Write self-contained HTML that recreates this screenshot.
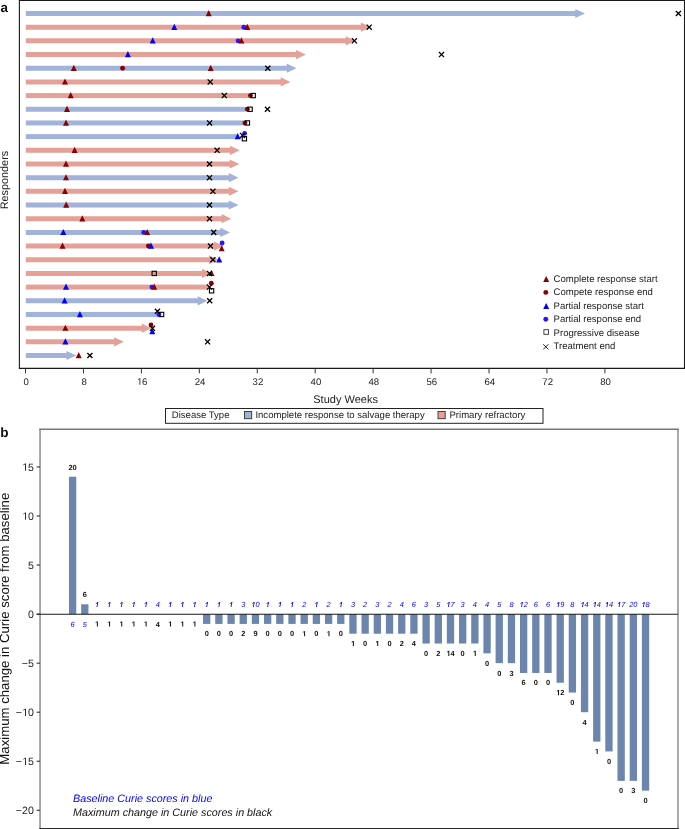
<!DOCTYPE html><html><head><meta charset="utf-8"><style>html,body{margin:0;padding:0;background:#fff;}svg{display:block;will-change:transform;text-rendering:geometricPrecision;font-family:"Liberation Sans",sans-serif;}</style></head><body>
<svg width="685" height="829" viewBox="0 0 685 829">
<rect width="685" height="829" fill="#fff"/>
<text x="0.6" y="11.7" font-size="13.4" font-weight="bold" fill="#111">a</text>
<path d="M25.8 11.00H575.30V8.90L585.00 13.50L575.30 18.10V16.00H25.8Z" fill="#A1B3D9"/>
<path d="M25.8 24.68H360.90V22.58L370.60 27.18L360.90 31.78V29.68H25.8Z" fill="#E5A197"/>
<path d="M25.8 38.36H345.70V36.26L355.40 40.86L345.70 45.46V43.36H25.8Z" fill="#E5A197"/>
<path d="M25.8 52.04H296.00V49.94L305.70 54.54L296.00 59.14V57.04H25.8Z" fill="#E5A197"/>
<path d="M25.8 65.72H286.80V63.62L296.50 68.22L286.80 72.82V70.72H25.8Z" fill="#A1B3D9"/>
<path d="M25.8 79.40H280.70V77.30L290.40 81.90L280.70 86.50V84.40H25.8Z" fill="#E5A197"/>
<rect x="25.8" y="93.08" width="223.90" height="5.00" fill="#E5A197"/>
<rect x="25.8" y="106.76" width="219.80" height="5.00" fill="#A1B3D9"/>
<rect x="25.8" y="120.44" width="217.40" height="5.00" fill="#A1B3D9"/>
<rect x="25.8" y="134.12" width="211.20" height="5.00" fill="#A1B3D9"/>
<path d="M25.8 147.80H230.00V145.70L239.70 150.30L230.00 154.90V152.80H25.8Z" fill="#E5A197"/>
<path d="M25.8 161.48H229.70V159.38L239.40 163.98L229.70 168.58V166.48H25.8Z" fill="#E5A197"/>
<path d="M25.8 175.16H228.80V173.06L238.50 177.66L228.80 182.26V180.16H25.8Z" fill="#A1B3D9"/>
<path d="M25.8 188.84H228.80V186.74L238.50 191.34L228.80 195.94V193.84H25.8Z" fill="#E5A197"/>
<path d="M25.8 202.52H228.80V200.42L238.50 205.02L228.80 209.62V207.52H25.8Z" fill="#A1B3D9"/>
<path d="M25.8 216.20H221.50V214.10L231.20 218.70L221.50 223.30V221.20H25.8Z" fill="#E5A197"/>
<path d="M25.8 229.88H220.30V227.78L230.00 232.38L220.30 236.98V234.88H25.8Z" fill="#A1B3D9"/>
<path d="M25.8 243.56H213.90V241.46L223.60 246.06L213.90 250.66V248.56H25.8Z" fill="#E5A197"/>
<path d="M25.8 257.24H208.90V255.14L218.60 259.74L208.90 264.34V262.24H25.8Z" fill="#E5A197"/>
<path d="M25.8 270.92H202.00V268.82L211.70 273.42L202.00 278.02V275.92H25.8Z" fill="#E5A197"/>
<rect x="25.8" y="284.60" width="182.10" height="5.00" fill="#E5A197"/>
<path d="M25.8 298.28H197.70V296.18L207.40 300.78L197.70 305.38V303.28H25.8Z" fill="#A1B3D9"/>
<rect x="25.8" y="311.96" width="133.10" height="5.00" fill="#A1B3D9"/>
<path d="M25.8 325.64H141.80V323.54L151.50 328.14L141.80 332.74V330.64H25.8Z" fill="#E5A197"/>
<path d="M25.8 339.32H114.10V337.22L123.80 341.82L114.10 346.42V344.32H25.8Z" fill="#E5A197"/>
<path d="M25.8 353.00H66.50V350.90L76.20 355.50L66.50 360.10V358.00H25.8Z" fill="#A1B3D9"/>
<circle cx="243.80" cy="27.18" r="2.45" fill="#2a14ff"/>
<circle cx="238.10" cy="40.86" r="2.45" fill="#2a14ff"/>
<circle cx="122.60" cy="68.22" r="2.45" fill="#8B0000"/>
<circle cx="250.40" cy="95.58" r="2.45" fill="#8B0000"/>
<circle cx="247.30" cy="109.26" r="2.45" fill="#8B0000"/>
<circle cx="244.90" cy="122.94" r="2.45" fill="#8B0000"/>
<circle cx="244.60" cy="133.42" r="2.45" fill="#2a14ff"/>
<circle cx="143.70" cy="232.38" r="2.45" fill="#2a14ff"/>
<circle cx="148.40" cy="246.06" r="2.45" fill="#8B0000"/>
<circle cx="222.10" cy="243.06" r="2.45" fill="#2a14ff"/>
<circle cx="151.90" cy="287.10" r="2.45" fill="#2a14ff"/>
<circle cx="211.30" cy="283.20" r="2.45" fill="#8B0000"/>
<circle cx="158.90" cy="314.46" r="2.45" fill="#2a14ff"/>
<circle cx="151.00" cy="325.04" r="2.45" fill="#8B0000"/>
<path d="M208.70 10.00L211.70 16.20L205.70 16.20Z" fill="#8B0000"/>
<path d="M174.30 23.68L177.30 29.88L171.30 29.88Z" fill="#0000FF"/>
<path d="M247.30 23.68L250.30 29.88L244.30 29.88Z" fill="#8B0000"/>
<path d="M152.70 37.36L155.70 43.56L149.70 43.56Z" fill="#0000FF"/>
<path d="M241.40 37.36L244.40 43.56L238.40 43.56Z" fill="#8B0000"/>
<path d="M127.90 51.04L130.90 57.24L124.90 57.24Z" fill="#0000FF"/>
<path d="M73.80 64.72L76.80 70.92L70.80 70.92Z" fill="#8B0000"/>
<path d="M210.70 64.72L213.70 70.92L207.70 70.92Z" fill="#8B0000"/>
<path d="M65.00 78.40L68.00 84.60L62.00 84.60Z" fill="#8B0000"/>
<path d="M70.70 92.08L73.70 98.28L67.70 98.28Z" fill="#8B0000"/>
<path d="M67.00 105.76L70.00 111.96L64.00 111.96Z" fill="#8B0000"/>
<path d="M66.00 119.44L69.00 125.64L63.00 125.64Z" fill="#8B0000"/>
<path d="M237.70 133.12L240.70 139.32L234.70 139.32Z" fill="#0000FF"/>
<path d="M74.60 146.80L77.60 153.00L71.60 153.00Z" fill="#8B0000"/>
<path d="M66.00 160.48L69.00 166.68L63.00 166.68Z" fill="#8B0000"/>
<path d="M66.00 174.16L69.00 180.36L63.00 180.36Z" fill="#8B0000"/>
<path d="M65.00 187.84L68.00 194.04L62.00 194.04Z" fill="#8B0000"/>
<path d="M66.20 201.52L69.20 207.72L63.20 207.72Z" fill="#8B0000"/>
<path d="M82.30 215.20L85.30 221.40L79.30 221.40Z" fill="#8B0000"/>
<path d="M63.30 228.88L66.30 235.08L60.30 235.08Z" fill="#0000FF"/>
<path d="M147.20 228.88L150.20 235.08L144.20 235.08Z" fill="#8B0000"/>
<path d="M62.50 242.56L65.50 248.76L59.50 248.76Z" fill="#8B0000"/>
<path d="M151.00 242.56L154.00 248.76L148.00 248.76Z" fill="#0000FF"/>
<path d="M221.70 245.16L224.70 251.36L218.70 251.36Z" fill="#8B0000"/>
<path d="M219.20 256.24L222.20 262.44L216.20 262.44Z" fill="#0000FF"/>
<path d="M211.50 269.92L214.50 276.12L208.50 276.12Z" fill="#8B0000"/>
<path d="M66.00 283.60L69.00 289.80L63.00 289.80Z" fill="#0000FF"/>
<path d="M154.20 283.60L157.20 289.80L151.20 289.80Z" fill="#8B0000"/>
<path d="M64.60 297.28L67.60 303.48L61.60 303.48Z" fill="#0000FF"/>
<path d="M79.90 310.96L82.90 317.16L76.90 317.16Z" fill="#0000FF"/>
<path d="M65.40 324.64L68.40 330.84L62.40 330.84Z" fill="#8B0000"/>
<path d="M152.30 328.04L155.30 334.24L149.30 334.24Z" fill="#0000FF"/>
<path d="M65.40 338.32L68.40 344.52L62.40 344.52Z" fill="#0000FF"/>
<path d="M78.70 352.00L81.70 358.20L75.70 358.20Z" fill="#8B0000"/>
<rect x="251.05" y="93.43" width="4.30" height="4.30" fill="none" stroke="#000" stroke-width="1.1"/>
<rect x="247.95" y="107.11" width="4.30" height="4.30" fill="none" stroke="#000" stroke-width="1.1"/>
<rect x="245.25" y="120.79" width="4.30" height="4.30" fill="none" stroke="#000" stroke-width="1.1"/>
<rect x="242.25" y="136.57" width="4.30" height="4.30" fill="none" stroke="#000" stroke-width="1.1"/>
<rect x="152.05" y="271.27" width="4.30" height="4.30" fill="none" stroke="#000" stroke-width="1.1"/>
<rect x="209.45" y="288.65" width="4.30" height="4.30" fill="none" stroke="#000" stroke-width="1.1"/>
<rect x="159.45" y="312.31" width="4.30" height="4.30" fill="none" stroke="#000" stroke-width="1.1"/>
<path d="M675.85 10.95L680.95 16.05M675.85 16.05L680.95 10.95" stroke="#000" stroke-width="1.3" fill="none"/>
<path d="M366.65 24.63L371.75 29.73M366.65 29.73L371.75 24.63" stroke="#000" stroke-width="1.3" fill="none"/>
<path d="M351.85 38.31L356.95 43.41M351.85 43.41L356.95 38.31" stroke="#000" stroke-width="1.3" fill="none"/>
<path d="M438.95 51.99L444.05 57.09M438.95 57.09L444.05 51.99" stroke="#000" stroke-width="1.3" fill="none"/>
<path d="M265.25 65.67L270.35 70.77M265.25 70.77L270.35 65.67" stroke="#000" stroke-width="1.3" fill="none"/>
<path d="M207.65 79.35L212.75 84.45M207.65 84.45L212.75 79.35" stroke="#000" stroke-width="1.3" fill="none"/>
<path d="M221.75 93.03L226.85 98.13M221.75 98.13L226.85 93.03" stroke="#000" stroke-width="1.3" fill="none"/>
<path d="M264.95 106.71L270.05 111.81M264.95 111.81L270.05 106.71" stroke="#000" stroke-width="1.3" fill="none"/>
<path d="M207.05 120.39L212.15 125.49M207.05 125.49L212.15 120.39" stroke="#000" stroke-width="1.3" fill="none"/>
<path d="M239.95 132.87L245.05 137.97M239.95 137.97L245.05 132.87" stroke="#000" stroke-width="1.3" fill="none"/>
<path d="M214.55 147.75L219.65 152.85M214.55 152.85L219.65 147.75" stroke="#000" stroke-width="1.3" fill="none"/>
<path d="M206.95 161.43L212.05 166.53M206.95 166.53L212.05 161.43" stroke="#000" stroke-width="1.3" fill="none"/>
<path d="M206.95 175.11L212.05 180.21M206.95 180.21L212.05 175.11" stroke="#000" stroke-width="1.3" fill="none"/>
<path d="M210.35 188.79L215.45 193.89M210.35 193.89L215.45 188.79" stroke="#000" stroke-width="1.3" fill="none"/>
<path d="M206.95 202.47L212.05 207.57M206.95 207.57L212.05 202.47" stroke="#000" stroke-width="1.3" fill="none"/>
<path d="M206.95 216.15L212.05 221.25M206.95 221.25L212.05 216.15" stroke="#000" stroke-width="1.3" fill="none"/>
<path d="M211.15 229.83L216.25 234.93M211.15 234.93L216.25 229.83" stroke="#000" stroke-width="1.3" fill="none"/>
<path d="M207.95 243.51L213.05 248.61M207.95 248.61L213.05 243.51" stroke="#000" stroke-width="1.3" fill="none"/>
<path d="M210.35 257.19L215.45 262.29M210.35 262.29L215.45 257.19" stroke="#000" stroke-width="1.3" fill="none"/>
<path d="M206.95 270.87L212.05 275.97M206.95 275.97L212.05 270.87" stroke="#000" stroke-width="1.3" fill="none"/>
<path d="M206.95 284.55L212.05 289.65M206.95 289.65L212.05 284.55" stroke="#000" stroke-width="1.3" fill="none"/>
<path d="M207.15 298.23L212.25 303.33M207.15 303.33L212.25 298.23" stroke="#000" stroke-width="1.3" fill="none"/>
<path d="M154.85 308.71L159.95 313.81M154.85 313.81L159.95 308.71" stroke="#000" stroke-width="1.3" fill="none"/>
<path d="M149.95 325.79L155.05 330.89M149.95 330.89L155.05 325.79" stroke="#000" stroke-width="1.3" fill="none"/>
<path d="M205.05 339.27L210.15 344.37M205.05 344.37L210.15 339.27" stroke="#000" stroke-width="1.3" fill="none"/>
<path d="M87.35 352.95L92.45 358.05M87.35 358.05L92.45 352.95" stroke="#000" stroke-width="1.3" fill="none"/>
<path d="M19.4 0.5H684.5V368.4H19.4Z" fill="none" stroke="#1a1a1a" stroke-width="1.1"/>
<line x1="25.50" y1="368.4" x2="25.50" y2="373.4" stroke="#333" stroke-width="1"/>
<text x="23.53" y="384.80" font-size="9.6" fill="#222">0</text>
<line x1="83.44" y1="368.4" x2="83.44" y2="373.4" stroke="#333" stroke-width="1"/>
<text x="81.47" y="384.80" font-size="9.6" fill="#222">8</text>
<line x1="141.38" y1="368.4" x2="141.38" y2="373.4" stroke="#333" stroke-width="1"/>
<path transform="translate(136.74 384.80) scale(0.00469 -0.00469)" d="M763 0L583 0L583 1237L265 1010L265 1180L598 1409L763 1409Z" fill="#222"/><text x="142.08" y="384.80" font-size="9.6" fill="#222">6</text>
<line x1="199.32" y1="368.4" x2="199.32" y2="373.4" stroke="#333" stroke-width="1"/>
<text x="194.68" y="384.80" font-size="9.6" fill="#222">24</text>
<line x1="257.26" y1="368.4" x2="257.26" y2="373.4" stroke="#333" stroke-width="1"/>
<text x="252.62" y="384.80" font-size="9.6" fill="#222">32</text>
<line x1="315.20" y1="368.4" x2="315.20" y2="373.4" stroke="#333" stroke-width="1"/>
<text x="310.56" y="384.80" font-size="9.6" fill="#222">40</text>
<line x1="373.14" y1="368.4" x2="373.14" y2="373.4" stroke="#333" stroke-width="1"/>
<text x="368.50" y="384.80" font-size="9.6" fill="#222">48</text>
<line x1="431.08" y1="368.4" x2="431.08" y2="373.4" stroke="#333" stroke-width="1"/>
<text x="426.44" y="384.80" font-size="9.6" fill="#222">56</text>
<line x1="489.02" y1="368.4" x2="489.02" y2="373.4" stroke="#333" stroke-width="1"/>
<text x="484.38" y="384.80" font-size="9.6" fill="#222">64</text>
<line x1="546.96" y1="368.4" x2="546.96" y2="373.4" stroke="#333" stroke-width="1"/>
<text x="542.32" y="384.80" font-size="9.6" fill="#222">72</text>
<line x1="604.90" y1="368.4" x2="604.90" y2="373.4" stroke="#333" stroke-width="1"/>
<text x="600.26" y="384.80" font-size="9.6" fill="#222">80</text>
<text x="345.6" y="403.0" font-size="11" text-anchor="middle" fill="#222">Study Weeks</text>
<text transform="translate(8.2,180.05) rotate(-90)" font-size="10.85" text-anchor="middle" fill="#222">Responders</text>
<path d="M546.20 275.90L549.20 282.10L543.20 282.10Z" fill="#8B0000"/>
<text x="553.6" y="282.00" font-size="9.56" fill="#222">Complete response start</text>
<circle cx="545.80" cy="292.40" r="2.45" fill="#8B0000"/>
<text x="553.6" y="295.46" font-size="9.56" fill="#222">Compete response end</text>
<path d="M546.20 302.90L549.20 309.10L543.20 309.10Z" fill="#0000FF"/>
<text x="553.6" y="308.92" font-size="9.56" fill="#222">Partial response start</text>
<circle cx="545.80" cy="319.30" r="2.45" fill="#2a14ff"/>
<text x="553.6" y="322.38" font-size="9.56" fill="#222">Partial response end</text>
<rect x="543.90" y="329.70" width="4.60" height="4.60" fill="none" stroke="#3a3a3a" stroke-width="0.95"/>
<text x="553.6" y="335.84" font-size="9.56" fill="#222">Progressive disease</text>
<path d="M543.25 344.25L548.35 349.35M543.25 349.35L548.35 344.25" stroke="#222" stroke-width="1.0" fill="none"/>
<text x="553.6" y="349.30" font-size="9.56" fill="#222">Treatment end</text>
<rect x="165.5" y="408.5" width="377.5" height="14.8" fill="#fff" stroke="#222" stroke-width="1"/>
<text x="171.8" y="418.4" font-size="9.55" fill="#222">Disease Type</text>
<rect x="244.5" y="411.5" width="7.2" height="7.2" fill="#A1B3D9" stroke="#333" stroke-width="0.9"/>
<text x="255.4" y="418.4" font-size="9.55" fill="#222">Incomplete response to salvage therapy</text>
<rect x="438" y="411.5" width="7.2" height="7.2" fill="#E5A197" stroke="#333" stroke-width="0.9"/>
<text x="449.5" y="418.4" font-size="9.55" fill="#222">Primary refractory</text>
<text x="0.2" y="436.5" font-size="13.6" font-weight="bold" fill="#111">b</text>
<rect x="68.95" y="476.76" width="7.3" height="137.34" fill="#6C85AD"/>
<rect x="81.14" y="604.29" width="7.3" height="9.81" fill="#6C85AD"/>
<rect x="203.04" y="614.10" width="7.3" height="9.81" fill="#6C85AD"/>
<rect x="215.23" y="614.10" width="7.3" height="9.81" fill="#6C85AD"/>
<rect x="227.42" y="614.10" width="7.3" height="9.81" fill="#6C85AD"/>
<rect x="239.61" y="614.10" width="7.3" height="9.81" fill="#6C85AD"/>
<rect x="251.80" y="614.10" width="7.3" height="9.81" fill="#6C85AD"/>
<rect x="263.99" y="614.10" width="7.3" height="9.81" fill="#6C85AD"/>
<rect x="276.18" y="614.10" width="7.3" height="9.81" fill="#6C85AD"/>
<rect x="288.37" y="614.10" width="7.3" height="9.81" fill="#6C85AD"/>
<rect x="300.56" y="614.10" width="7.3" height="9.81" fill="#6C85AD"/>
<rect x="312.75" y="614.10" width="7.3" height="9.81" fill="#6C85AD"/>
<rect x="324.94" y="614.10" width="7.3" height="9.81" fill="#6C85AD"/>
<rect x="337.13" y="614.10" width="7.3" height="9.81" fill="#6C85AD"/>
<rect x="349.32" y="614.10" width="7.3" height="19.62" fill="#6C85AD"/>
<rect x="361.51" y="614.10" width="7.3" height="19.62" fill="#6C85AD"/>
<rect x="373.70" y="614.10" width="7.3" height="19.62" fill="#6C85AD"/>
<rect x="385.89" y="614.10" width="7.3" height="19.62" fill="#6C85AD"/>
<rect x="398.08" y="614.10" width="7.3" height="19.62" fill="#6C85AD"/>
<rect x="410.27" y="614.10" width="7.3" height="19.62" fill="#6C85AD"/>
<rect x="422.46" y="614.10" width="7.3" height="29.43" fill="#6C85AD"/>
<rect x="434.65" y="614.10" width="7.3" height="29.43" fill="#6C85AD"/>
<rect x="446.84" y="614.10" width="7.3" height="29.43" fill="#6C85AD"/>
<rect x="459.03" y="614.10" width="7.3" height="29.43" fill="#6C85AD"/>
<rect x="471.22" y="614.10" width="7.3" height="29.43" fill="#6C85AD"/>
<rect x="483.41" y="614.10" width="7.3" height="39.24" fill="#6C85AD"/>
<rect x="495.60" y="614.10" width="7.3" height="49.05" fill="#6C85AD"/>
<rect x="507.79" y="614.10" width="7.3" height="49.05" fill="#6C85AD"/>
<rect x="519.98" y="614.10" width="7.3" height="58.86" fill="#6C85AD"/>
<rect x="532.17" y="614.10" width="7.3" height="58.86" fill="#6C85AD"/>
<rect x="544.36" y="614.10" width="7.3" height="58.86" fill="#6C85AD"/>
<rect x="556.55" y="614.10" width="7.3" height="68.67" fill="#6C85AD"/>
<rect x="568.74" y="614.10" width="7.3" height="78.48" fill="#6C85AD"/>
<rect x="580.93" y="614.10" width="7.3" height="98.10" fill="#6C85AD"/>
<rect x="593.12" y="614.10" width="7.3" height="127.53" fill="#6C85AD"/>
<rect x="605.31" y="614.10" width="7.3" height="137.34" fill="#6C85AD"/>
<rect x="617.50" y="614.10" width="7.3" height="166.77" fill="#6C85AD"/>
<rect x="629.69" y="614.10" width="7.3" height="166.77" fill="#6C85AD"/>
<rect x="641.88" y="614.10" width="7.3" height="176.58" fill="#6C85AD"/>
<text x="68.48" y="469.86" font-size="7.4" font-weight="bold" fill="#111">20</text>
<text x="70.54" y="626.50" font-size="7.4" font-style="italic" fill="#0000ff">6</text>
<text x="82.73" y="597.39" font-size="7.4" font-weight="bold" fill="#111">6</text>
<text x="82.73" y="626.50" font-size="7.4" font-style="italic" fill="#0000ff">5</text>
<path transform="translate(94.92 607.10) scale(0.00361 -0.00361)" d="M430 0L655 1090L225 850L275 1090L735 1409L945 1409L675 0Z" fill="#0000ff"/>
<path transform="translate(94.92 626.50) scale(0.00361 -0.00361)" d="M819 0L538 0L538 1170L200 959L200 1180L553 1409L819 1409Z" fill="#111"/>
<path transform="translate(107.11 607.10) scale(0.00361 -0.00361)" d="M430 0L655 1090L225 850L275 1090L735 1409L945 1409L675 0Z" fill="#0000ff"/>
<path transform="translate(107.11 626.50) scale(0.00361 -0.00361)" d="M819 0L538 0L538 1170L200 959L200 1180L553 1409L819 1409Z" fill="#111"/>
<path transform="translate(119.30 607.10) scale(0.00361 -0.00361)" d="M430 0L655 1090L225 850L275 1090L735 1409L945 1409L675 0Z" fill="#0000ff"/>
<path transform="translate(119.30 626.50) scale(0.00361 -0.00361)" d="M819 0L538 0L538 1170L200 959L200 1180L553 1409L819 1409Z" fill="#111"/>
<path transform="translate(131.49 607.10) scale(0.00361 -0.00361)" d="M430 0L655 1090L225 850L275 1090L735 1409L945 1409L675 0Z" fill="#0000ff"/>
<path transform="translate(131.49 626.50) scale(0.00361 -0.00361)" d="M819 0L538 0L538 1170L200 959L200 1180L553 1409L819 1409Z" fill="#111"/>
<path transform="translate(143.68 607.10) scale(0.00361 -0.00361)" d="M430 0L655 1090L225 850L275 1090L735 1409L945 1409L675 0Z" fill="#0000ff"/>
<path transform="translate(143.68 626.50) scale(0.00361 -0.00361)" d="M819 0L538 0L538 1170L200 959L200 1180L553 1409L819 1409Z" fill="#111"/>
<text x="155.87" y="607.10" font-size="7.4" font-style="italic" fill="#0000ff">4</text>
<text x="155.87" y="626.50" font-size="7.4" font-weight="bold" fill="#111">4</text>
<path transform="translate(168.06 607.10) scale(0.00361 -0.00361)" d="M430 0L655 1090L225 850L275 1090L735 1409L945 1409L675 0Z" fill="#0000ff"/>
<path transform="translate(168.06 626.50) scale(0.00361 -0.00361)" d="M819 0L538 0L538 1170L200 959L200 1180L553 1409L819 1409Z" fill="#111"/>
<path transform="translate(180.25 607.10) scale(0.00361 -0.00361)" d="M430 0L655 1090L225 850L275 1090L735 1409L945 1409L675 0Z" fill="#0000ff"/>
<path transform="translate(180.25 626.50) scale(0.00361 -0.00361)" d="M819 0L538 0L538 1170L200 959L200 1180L553 1409L819 1409Z" fill="#111"/>
<path transform="translate(192.44 607.10) scale(0.00361 -0.00361)" d="M430 0L655 1090L225 850L275 1090L735 1409L945 1409L675 0Z" fill="#0000ff"/>
<path transform="translate(192.44 626.50) scale(0.00361 -0.00361)" d="M819 0L538 0L538 1170L200 959L200 1180L553 1409L819 1409Z" fill="#111"/>
<path transform="translate(204.63 607.10) scale(0.00361 -0.00361)" d="M430 0L655 1090L225 850L275 1090L735 1409L945 1409L675 0Z" fill="#0000ff"/>
<text x="204.63" y="636.31" font-size="7.4" font-weight="bold" fill="#111">0</text>
<path transform="translate(216.82 607.10) scale(0.00361 -0.00361)" d="M430 0L655 1090L225 850L275 1090L735 1409L945 1409L675 0Z" fill="#0000ff"/>
<text x="216.82" y="636.31" font-size="7.4" font-weight="bold" fill="#111">0</text>
<path transform="translate(229.01 607.10) scale(0.00361 -0.00361)" d="M430 0L655 1090L225 850L275 1090L735 1409L945 1409L675 0Z" fill="#0000ff"/>
<text x="229.01" y="636.31" font-size="7.4" font-weight="bold" fill="#111">0</text>
<text x="241.20" y="607.10" font-size="7.4" font-style="italic" fill="#0000ff">3</text>
<text x="241.20" y="636.31" font-size="7.4" font-weight="bold" fill="#111">2</text>
<path transform="translate(251.33 607.10) scale(0.00361 -0.00361)" d="M430 0L655 1090L225 850L275 1090L735 1409L945 1409L675 0Z" fill="#0000ff"/><text x="255.45" y="607.10" font-size="7.4" font-style="italic" fill="#0000ff">0</text>
<text x="253.39" y="636.31" font-size="7.4" font-weight="bold" fill="#111">9</text>
<path transform="translate(265.58 607.10) scale(0.00361 -0.00361)" d="M430 0L655 1090L225 850L275 1090L735 1409L945 1409L675 0Z" fill="#0000ff"/>
<text x="265.58" y="636.31" font-size="7.4" font-weight="bold" fill="#111">0</text>
<path transform="translate(277.77 607.10) scale(0.00361 -0.00361)" d="M430 0L655 1090L225 850L275 1090L735 1409L945 1409L675 0Z" fill="#0000ff"/>
<text x="277.77" y="636.31" font-size="7.4" font-weight="bold" fill="#111">0</text>
<path transform="translate(289.96 607.10) scale(0.00361 -0.00361)" d="M430 0L655 1090L225 850L275 1090L735 1409L945 1409L675 0Z" fill="#0000ff"/>
<text x="289.96" y="636.31" font-size="7.4" font-weight="bold" fill="#111">0</text>
<text x="302.15" y="607.10" font-size="7.4" font-style="italic" fill="#0000ff">2</text>
<path transform="translate(302.15 636.31) scale(0.00361 -0.00361)" d="M819 0L538 0L538 1170L200 959L200 1180L553 1409L819 1409Z" fill="#111"/>
<path transform="translate(314.34 607.10) scale(0.00361 -0.00361)" d="M430 0L655 1090L225 850L275 1090L735 1409L945 1409L675 0Z" fill="#0000ff"/>
<text x="314.34" y="636.31" font-size="7.4" font-weight="bold" fill="#111">0</text>
<text x="326.53" y="607.10" font-size="7.4" font-style="italic" fill="#0000ff">2</text>
<path transform="translate(326.53 636.31) scale(0.00361 -0.00361)" d="M819 0L538 0L538 1170L200 959L200 1180L553 1409L819 1409Z" fill="#111"/>
<path transform="translate(338.72 607.10) scale(0.00361 -0.00361)" d="M430 0L655 1090L225 850L275 1090L735 1409L945 1409L675 0Z" fill="#0000ff"/>
<text x="338.72" y="636.31" font-size="7.4" font-weight="bold" fill="#111">0</text>
<text x="350.91" y="607.10" font-size="7.4" font-style="italic" fill="#0000ff">3</text>
<path transform="translate(350.91 646.12) scale(0.00361 -0.00361)" d="M819 0L538 0L538 1170L200 959L200 1180L553 1409L819 1409Z" fill="#111"/>
<text x="363.10" y="607.10" font-size="7.4" font-style="italic" fill="#0000ff">2</text>
<text x="363.10" y="646.12" font-size="7.4" font-weight="bold" fill="#111">0</text>
<text x="375.29" y="607.10" font-size="7.4" font-style="italic" fill="#0000ff">3</text>
<path transform="translate(375.29 646.12) scale(0.00361 -0.00361)" d="M819 0L538 0L538 1170L200 959L200 1180L553 1409L819 1409Z" fill="#111"/>
<text x="387.48" y="607.10" font-size="7.4" font-style="italic" fill="#0000ff">2</text>
<text x="387.48" y="646.12" font-size="7.4" font-weight="bold" fill="#111">0</text>
<text x="399.67" y="607.10" font-size="7.4" font-style="italic" fill="#0000ff">4</text>
<text x="399.67" y="646.12" font-size="7.4" font-weight="bold" fill="#111">2</text>
<text x="411.86" y="607.10" font-size="7.4" font-style="italic" fill="#0000ff">6</text>
<text x="411.86" y="646.12" font-size="7.4" font-weight="bold" fill="#111">4</text>
<text x="424.05" y="607.10" font-size="7.4" font-style="italic" fill="#0000ff">3</text>
<text x="424.05" y="655.93" font-size="7.4" font-weight="bold" fill="#111">0</text>
<text x="436.24" y="607.10" font-size="7.4" font-style="italic" fill="#0000ff">5</text>
<text x="436.24" y="655.93" font-size="7.4" font-weight="bold" fill="#111">2</text>
<path transform="translate(446.37 607.10) scale(0.00361 -0.00361)" d="M430 0L655 1090L225 850L275 1090L735 1409L945 1409L675 0Z" fill="#0000ff"/><text x="450.49" y="607.10" font-size="7.4" font-style="italic" fill="#0000ff">7</text>
<path transform="translate(446.37 655.93) scale(0.00361 -0.00361)" d="M819 0L538 0L538 1170L200 959L200 1180L553 1409L819 1409Z" fill="#111"/><text x="450.49" y="655.93" font-size="7.4" font-weight="bold" fill="#111">4</text>
<text x="460.62" y="607.10" font-size="7.4" font-style="italic" fill="#0000ff">3</text>
<text x="460.62" y="655.93" font-size="7.4" font-weight="bold" fill="#111">0</text>
<text x="472.81" y="607.10" font-size="7.4" font-style="italic" fill="#0000ff">4</text>
<path transform="translate(472.81 655.93) scale(0.00361 -0.00361)" d="M819 0L538 0L538 1170L200 959L200 1180L553 1409L819 1409Z" fill="#111"/>
<text x="485.00" y="607.10" font-size="7.4" font-style="italic" fill="#0000ff">4</text>
<text x="485.00" y="665.74" font-size="7.4" font-weight="bold" fill="#111">0</text>
<text x="497.19" y="607.10" font-size="7.4" font-style="italic" fill="#0000ff">5</text>
<text x="497.19" y="675.55" font-size="7.4" font-weight="bold" fill="#111">0</text>
<text x="509.38" y="607.10" font-size="7.4" font-style="italic" fill="#0000ff">8</text>
<text x="509.38" y="675.55" font-size="7.4" font-weight="bold" fill="#111">3</text>
<path transform="translate(519.51 607.10) scale(0.00361 -0.00361)" d="M430 0L655 1090L225 850L275 1090L735 1409L945 1409L675 0Z" fill="#0000ff"/><text x="523.63" y="607.10" font-size="7.4" font-style="italic" fill="#0000ff">2</text>
<text x="521.57" y="685.36" font-size="7.4" font-weight="bold" fill="#111">6</text>
<text x="533.76" y="607.10" font-size="7.4" font-style="italic" fill="#0000ff">6</text>
<text x="533.76" y="685.36" font-size="7.4" font-weight="bold" fill="#111">0</text>
<text x="545.95" y="607.10" font-size="7.4" font-style="italic" fill="#0000ff">6</text>
<text x="545.95" y="685.36" font-size="7.4" font-weight="bold" fill="#111">0</text>
<path transform="translate(556.08 607.10) scale(0.00361 -0.00361)" d="M430 0L655 1090L225 850L275 1090L735 1409L945 1409L675 0Z" fill="#0000ff"/><text x="560.20" y="607.10" font-size="7.4" font-style="italic" fill="#0000ff">9</text>
<path transform="translate(556.08 695.17) scale(0.00361 -0.00361)" d="M819 0L538 0L538 1170L200 959L200 1180L553 1409L819 1409Z" fill="#111"/><text x="560.20" y="695.17" font-size="7.4" font-weight="bold" fill="#111">2</text>
<text x="570.33" y="607.10" font-size="7.4" font-style="italic" fill="#0000ff">8</text>
<text x="570.33" y="704.98" font-size="7.4" font-weight="bold" fill="#111">0</text>
<path transform="translate(580.46 607.10) scale(0.00361 -0.00361)" d="M430 0L655 1090L225 850L275 1090L735 1409L945 1409L675 0Z" fill="#0000ff"/><text x="584.58" y="607.10" font-size="7.4" font-style="italic" fill="#0000ff">4</text>
<text x="582.52" y="724.60" font-size="7.4" font-weight="bold" fill="#111">4</text>
<path transform="translate(592.65 607.10) scale(0.00361 -0.00361)" d="M430 0L655 1090L225 850L275 1090L735 1409L945 1409L675 0Z" fill="#0000ff"/><text x="596.77" y="607.10" font-size="7.4" font-style="italic" fill="#0000ff">4</text>
<path transform="translate(594.71 754.03) scale(0.00361 -0.00361)" d="M819 0L538 0L538 1170L200 959L200 1180L553 1409L819 1409Z" fill="#111"/>
<path transform="translate(604.84 607.10) scale(0.00361 -0.00361)" d="M430 0L655 1090L225 850L275 1090L735 1409L945 1409L675 0Z" fill="#0000ff"/><text x="608.96" y="607.10" font-size="7.4" font-style="italic" fill="#0000ff">4</text>
<text x="606.90" y="763.84" font-size="7.4" font-weight="bold" fill="#111">0</text>
<path transform="translate(617.03 607.10) scale(0.00361 -0.00361)" d="M430 0L655 1090L225 850L275 1090L735 1409L945 1409L675 0Z" fill="#0000ff"/><text x="621.15" y="607.10" font-size="7.4" font-style="italic" fill="#0000ff">7</text>
<text x="619.09" y="793.27" font-size="7.4" font-weight="bold" fill="#111">0</text>
<text x="629.22" y="607.10" font-size="7.4" font-style="italic" fill="#0000ff">20</text>
<text x="631.28" y="793.27" font-size="7.4" font-weight="bold" fill="#111">3</text>
<path transform="translate(641.41 607.10) scale(0.00361 -0.00361)" d="M430 0L655 1090L225 850L275 1090L735 1409L945 1409L675 0Z" fill="#0000ff"/><text x="645.53" y="607.10" font-size="7.4" font-style="italic" fill="#0000ff">8</text>
<text x="643.47" y="803.08" font-size="7.4" font-weight="bold" fill="#111">0</text>
<line x1="40.05" y1="429.3" x2="40.05" y2="828" stroke="#999" stroke-width="1.7"/>
<line x1="678" y1="429.3" x2="678" y2="828" stroke="#999" stroke-width="1.7"/>
<line x1="39.2" y1="429.35" x2="678.85" y2="429.35" stroke="#777" stroke-width="1.5"/>
<line x1="39.2" y1="828.5" x2="678.85" y2="828.5" stroke="#2a2a2a" stroke-width="1.2"/>
<line x1="36.6" y1="614.30" x2="678" y2="614.30" stroke="#1a1a1a" stroke-width="1.1"/>
<line x1="36.6" y1="466.95" x2="40" y2="466.95" stroke="#333" stroke-width="1.1"/>
<path transform="translate(22.01 470.70) scale(0.00518 -0.00518)" d="M763 0L583 0L583 1237L265 1010L265 1180L598 1409L763 1409Z" fill="#222"/><text x="27.90" y="470.70" font-size="10.6" fill="#222">5</text>
<line x1="36.6" y1="516.00" x2="40" y2="516.00" stroke="#333" stroke-width="1.1"/>
<path transform="translate(22.01 519.75) scale(0.00518 -0.00518)" d="M763 0L583 0L583 1237L265 1010L265 1180L598 1409L763 1409Z" fill="#222"/><text x="27.90" y="519.75" font-size="10.6" fill="#222">0</text>
<line x1="36.6" y1="565.05" x2="40" y2="565.05" stroke="#333" stroke-width="1.1"/>
<text x="27.90" y="568.80" font-size="10.6" fill="#222">5</text>
<line x1="36.6" y1="614.10" x2="40" y2="614.10" stroke="#333" stroke-width="1.1"/>
<text x="27.90" y="617.85" font-size="10.6" fill="#222">0</text>
<line x1="36.6" y1="663.15" x2="40" y2="663.15" stroke="#333" stroke-width="1.1"/>
<text x="21.71" y="666.90" font-size="10.6" fill="#222">−5</text>
<line x1="36.6" y1="712.20" x2="40" y2="712.20" stroke="#333" stroke-width="1.1"/>
<text x="15.82" y="715.95" font-size="10.6" fill="#222">−</text><path transform="translate(22.01 715.95) scale(0.00518 -0.00518)" d="M763 0L583 0L583 1237L265 1010L265 1180L598 1409L763 1409Z" fill="#222"/><text x="27.90" y="715.95" font-size="10.6" fill="#222">0</text>
<line x1="36.6" y1="761.25" x2="40" y2="761.25" stroke="#333" stroke-width="1.1"/>
<text x="15.82" y="765.00" font-size="10.6" fill="#222">−</text><path transform="translate(22.01 765.00) scale(0.00518 -0.00518)" d="M763 0L583 0L583 1237L265 1010L265 1180L598 1409L763 1409Z" fill="#222"/><text x="27.90" y="765.00" font-size="10.6" fill="#222">5</text>
<line x1="36.6" y1="810.30" x2="40" y2="810.30" stroke="#333" stroke-width="1.1"/>
<text x="15.82" y="814.05" font-size="10.6" fill="#222">−20</text>
<text transform="translate(9.3,628.7) rotate(-90)" font-size="13.2" text-anchor="middle" fill="#111">Maximum change in Curie score from baseline</text>
<text x="73" y="802.3" font-size="10.78" font-style="italic" fill="#0000ff">Baseline Curie scores in blue</text>
<text x="73" y="815.8" font-size="10.78" font-style="italic" fill="#111">Maximum change in Curie scores in black</text>
</svg></body></html>
